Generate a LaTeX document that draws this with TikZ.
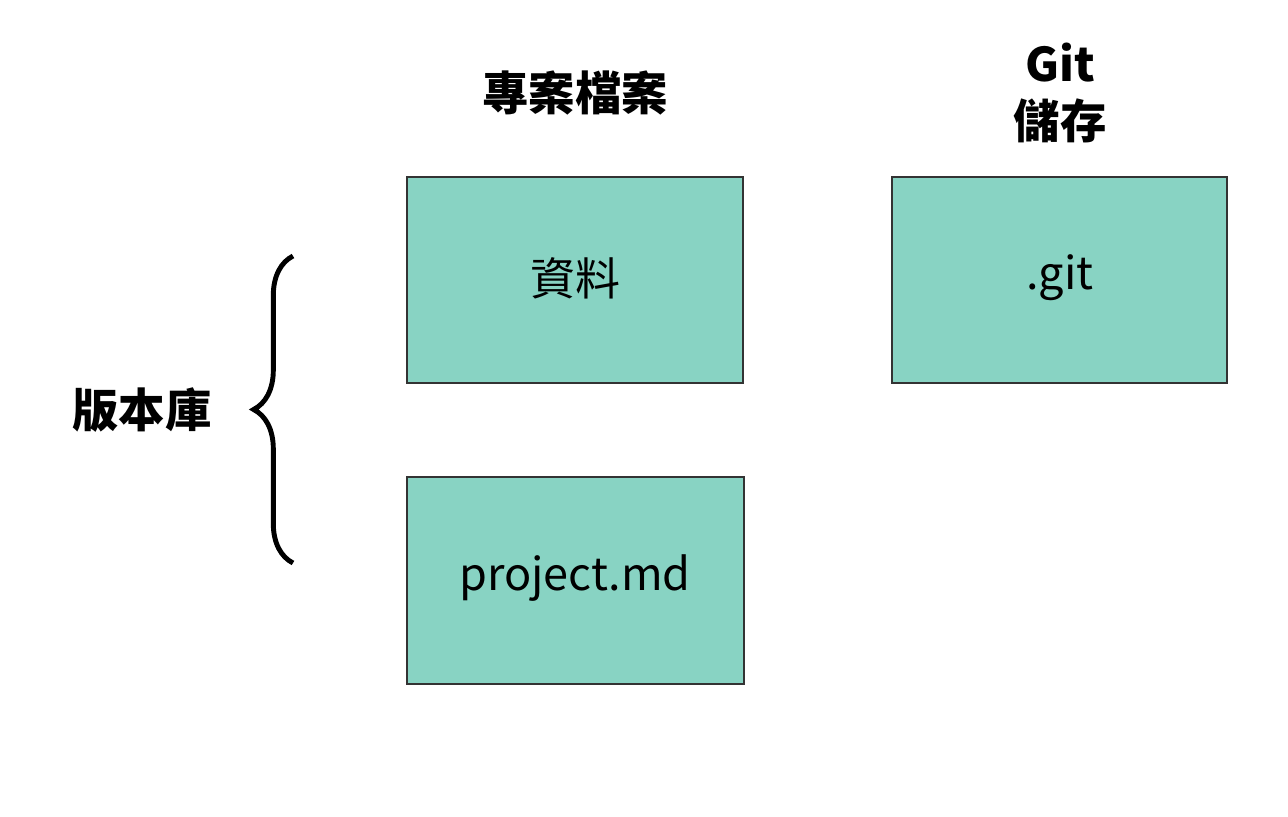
\documentclass[tikz,border=0pt]{standalone}
\usepackage{fontspec}
\setmainfont{Noto Sans CJK TC}
\usetikzlibrary{decorations.pathreplacing}
\begin{document}
\begin{tikzpicture}[x=0.025cm,y=-0.025cm,
  box/.style={draw=black!80,line width=1.2pt,fill={rgb,255:red,136;green,211;blue,195}},
  lbl/.style={font=\fontsize{32}{38}\selectfont},
  head/.style={font=\fontsize{33}{40}\selectfont\bfseries,align=center}]
\useasboundingbox[fill=white] (0,0) rectangle (1288,816);
\draw[box] (407,177) rectangle (743,383);
\draw[box] (892,177) rectangle (1227,383);
\draw[box] (407,477) rectangle (744,684);
\node[lbl] (t1) at (575,278) {資料};
\node[lbl] (t2) at (1060,278) {.git};
\node[lbl] (t3) at (575,578) {project.md};
\node[head] (h1) at (575,93) {專案檔案};
\node[head,font=\fontsize{33}{40}\selectfont\bfseries] (h2) at (1060,93) {Git\\儲存};
\node[head] (h3) at (142,410) {版本庫};
\draw[line width=3.5pt,decorate,decoration={brace,amplitude=28pt}] (293,563) -- (293,256);
\end{tikzpicture}
\end{document}
